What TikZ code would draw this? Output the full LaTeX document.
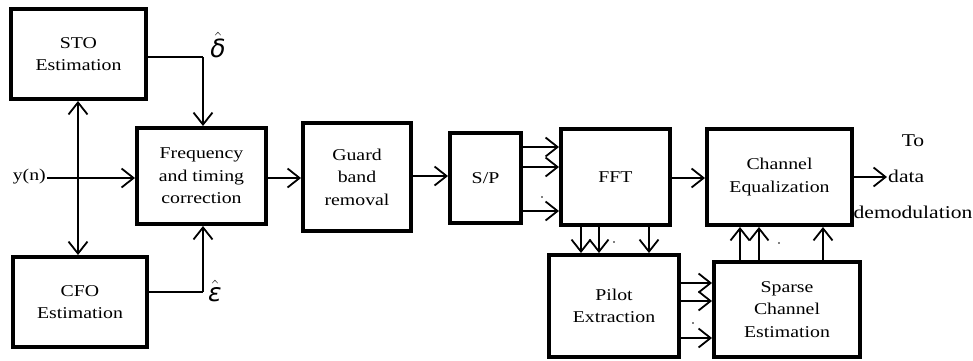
\documentclass[tikz,border=0pt]{standalone}
\usepackage{fontspec}
\setmainfont{Liberation Serif}[FakeStretch=1.2]
\newfontfamily\grk{DejaVu Sans}
\usetikzlibrary{arrows.meta}
\tikzset{
  blk/.style={draw=black, line width=4pt, inner sep=0pt, align=center,
    font=\fontsize{16.5}{22.5}\selectfont},
  arr/.style={line width=1.8pt, -{Straight Barb[length=12pt,width=19pt]}},
  conn/.style={line width=1.8pt},
  lbl/.style={inner sep=1pt, font=\fontsize{16.5}{20}\selectfont},
  rlbl/.style={inner sep=1pt, font=\fontsize{18}{20}\selectfont},
  hatlbl/.style={inner sep=0pt, font=\fontsize{25}{28}\selectfont}
}
\begin{document}
\begin{tikzpicture}[x=1pt,y=-1pt]
\useasboundingbox (0,0) rectangle (973,360);
% blocks
\node[blk, minimum width=135pt, minimum height=90pt] (sto) at (78.5,54) {STO\\Estimation};
\node[blk, minimum width=134pt, minimum height=90pt] (cfo) at (80,302) {CFO\\Estimation};
\node[blk, minimum width=129pt, minimum height=96pt] (ftc) at (201.5,176) {Frequency\\and timing\\correction};
\node[blk, minimum width=108pt, minimum height=108pt] (gbr) at (357,177) {Guard\\band\\removal};
\node[blk, minimum width=71pt, minimum height=90pt] (sp) at (485.5,178) {S/P};
\node[blk, minimum width=109pt, minimum height=96pt] (fft) at (615.5,177) {FFT};
\node[blk, minimum width=145pt, minimum height=96pt] (ce) at (779.5,177) {Channel\\Equalization};
\node[blk, minimum width=130pt, minimum height=102pt] (pe) at (614,306) {Pilot\\Extraction};
\node[blk, minimum width=146pt, minimum height=95pt] (sce) at (787,309.5) {Sparse\\Channel\\Estimation};
% input
\node[lbl, anchor=east] (yn) at (47,177) {y(n)};
\coordinate (j) at (78,178);
\draw[arr] (yn.east |- j) -- (ftc.west |- j);
\draw[arr] (j) -- (j |- sto.south);
\draw[arr] (j) -- (j |- cfo.north);
% estimates
\coordinate (dt) at (203,57);
\coordinate (et) at (203,292);
\draw[conn] (sto.east |- dt) -- (dt);
\draw[arr] (dt) -- (dt |- ftc.north);
\draw[conn] (cfo.east |- et) -- (et);
\draw[arr] (et) -- (et |- ftc.south);
\node[hatlbl] (dl) at (218,45) {$\hat{\mbox{\grk\itshape δ}}$};
\node[hatlbl] (el) at (215,291) {$\hat{\mbox{\grk\itshape ε}}$};
% main chain
\draw[arr] (ftc.east |- 0,178) -- (gbr.west |- 0,178);
\draw[arr] (gbr.east |- 0,176) -- (sp.west |- 0,176);
\draw[arr] (sp.east |- 0,147) -- (fft.west |- 0,147);
\draw[arr] (sp.east |- 0,167) -- (fft.west |- 0,167);
\draw[arr] (sp.east |- 0,211) -- (fft.west |- 0,211);
\fill (542,197) circle (0.8pt);
\draw[arr] (fft.east |- 0,178) -- (ce.west |- 0,178);
% FFT to pilot
\draw[arr] (fft.south -| 581,0) -- (pe.north -| 581,0);
\draw[arr] (fft.south -| 599,0) -- (pe.north -| 599,0);
\draw[arr] (fft.south -| 649,0) -- (pe.north -| 649,0);
\fill (614,242) circle (0.8pt);
% pilot to sparse
\draw[arr] (pe.east |- 0,283) -- (sce.west |- 0,283);
\draw[arr] (pe.east |- 0,301) -- (sce.west |- 0,301);
\draw[arr] (pe.east |- 0,338) -- (sce.west |- 0,338);
\fill (693,323) circle (0.8pt);
% sparse to CE
\draw[arr] (sce.north -| 740,0) -- (ce.south -| 740,0);
\draw[arr] (sce.north -| 759,0) -- (ce.south -| 759,0);
\draw[arr] (sce.north -| 823,0) -- (ce.south -| 823,0);
\fill (779,243) circle (0.8pt);
% output
\node[rlbl, anchor=west] (data) at (887,176) {data};
\node[rlbl] (to) at (913,141) {To};
\node[rlbl] (demod) at (913,212) {demodulation};
\draw[arr] (ce.east |- 0,177) -- (data.west |- 0,177);
\end{tikzpicture}
\end{document}
